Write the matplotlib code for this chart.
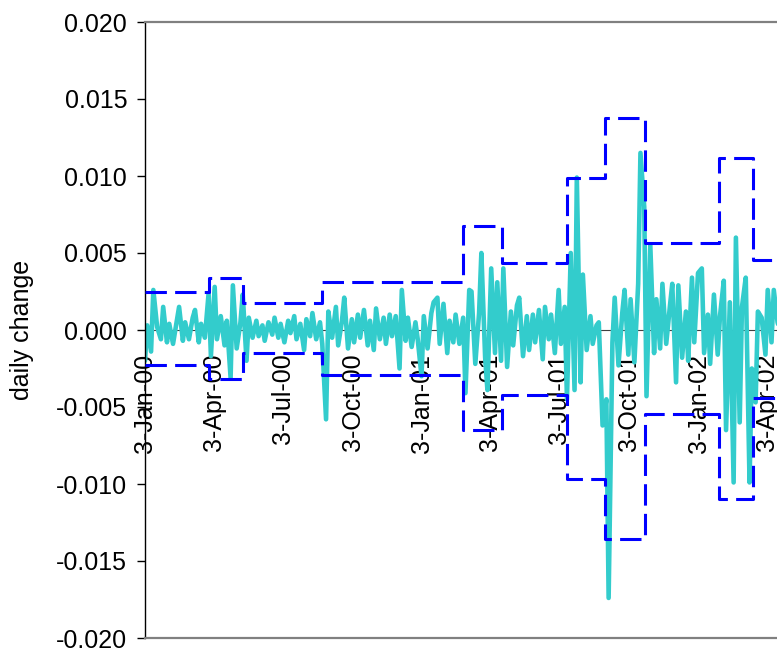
import pandas as pd
import matplotlib.pyplot as plt

plt.rcParams['font.family'] = ['Liberation Sans', 'DejaVu Sans']

# daily change, in thousandths, one reading every 3 trading days from 3-Jan-00
change_milli = [
    -2.0, 0.3, -1.4, 2.6, 0.2, -0.6, 1.5, -0.8, 0.4, -0.9, 0.6, 1.5, -0.7, 0.5, -0.6, 0.8, 1.3, -0.8, 0.4, -0.5,
    2.4, -1.7, 2.8, -0.6, 0.9, -1.0, 0.6, -3.1, 2.9, -1.2, 0.5, 2.3, -2.0, 0.8, -0.5, 0.6,
    -0.4, 0.3, -0.7, 0.5, -0.3, 0.8, -0.5, 0.4, -0.8, 0.6, -0.2, 0.9, -0.6, 0.4, -1.3, 0.7, -0.4, 1.1, -0.6, 0.5, -0.9,
    -5.8, 1.2, -0.5, 1.5, -1.0, 0.6, 2.1, -1.2, 0.7, -0.8, 1.0, -0.5, 1.3, -1.0, 0.6, -1.3, 1.4, -0.6, 0.8, -0.9, 1.0, -0.4, 0.9,
    -2.5, 2.6, -0.7, 0.8, -1.1, 0.5, -0.6, -3.0, 0.9, -1.2, 1.1, 1.8, 2.1, -0.9, 1.7, -1.5, 0.6, -0.8, 1.0, -0.9, 0.8,
    -4.1, 2.6, 2.5, -2.2, 1.1, 5.0, -1.8, -3.9, 4.0, -1.5, 3.1, -2.0, 4.0, -2.4, 1.2, -1.0, 1.6, 2.1, -1.7, 0.9,
    -1.3, 1.0, -0.8, 1.3, -1.9, 1.5, -0.6, 1.0, -1.5, 2.6, -0.9, 1.5, -4.5,
    5.0, -3.9, 9.9, -3.4, 3.6, -1.3, 0.9, -0.9, 0.3, 0.5, -6.2, -4.5, -17.4, -0.8, 2.1, -2.3, 1.1, 2.6, -1.6, 2.0,
    -2.1, 3.0, 11.5, 8.0,
    -4.3, 5.5, -1.5, 2.0, -1.2, 3.0, -0.9, 1.6, 3.0, -3.4, 2.9, -1.8, 1.2, -2.0, 3.4, -0.8, 3.7, 4.0, -1.5, 1.0,
    -2.2, 2.3, -1.6, 0.9, 3.2, -6.5, 1.8, -9.9, 6.0, -6.0, 1.5, 3.4, -9.9, -2.5, -4.7, 1.2, 0.8, -1.6, 2.6, -0.8,
    2.6, 0.5, -0.5,
]

# volatility bands (thousandths), constant from each start date
band_starts = ['2000-01-03', '2000-03-27', '2000-05-12', '2000-08-24', '2001-02-26', '2001-04-18',
               '2001-07-13', '2001-09-01', '2001-10-24', '2002-01-30', '2002-03-15']
band_upper = [2.45, 3.4, 1.73, 3.1, 6.75, 4.33, 9.9, 13.75, 5.63, 11.2, 4.55]
band_lower = [-2.27, -3.2, -1.5, -2.9, -6.5, -4.2, -9.7, -13.6, -5.45, -11.0, -4.4]
band_end = '2002-05-31'

tick_dates = ['2000-01-03', '2000-04-03', '2000-07-03', '2000-10-03', '2001-01-03',
              '2001-04-03', '2001-07-03', '2001-10-03', '2002-01-03', '2002-04-03']

dates = pd.bdate_range('2000-01-03', periods=len(change_milli), freq='3B')
change = pd.Series(change_milli, index=dates) / 1000.0

bx = pd.to_datetime(band_starts + [band_end])
up = [v / 1000.0 for v in band_upper + [band_upper[-1]]]
lo = [v / 1000.0 for v in band_lower + [band_lower[-1]]]

fig = plt.figure(figsize=(7.77, 6.52), dpi=100)
ax = fig.add_axes([145 / 777, 1 - 638 / 652, 1 - 145 / 777, (638 - 22) / 652])

ax.axhline(0, color='#404040', lw=0.8, zorder=1)
ax.plot(change.index, change.values, color='#33CCCC', lw=3.3, zorder=2,
        solid_joinstyle='round', solid_capstyle='round')
ax.plot(bx, up, color='#0000FF', lw=2.2, ls=(0, (7, 2.7)), drawstyle='steps-post', zorder=3)
ax.plot(bx, lo, color='#0000FF', lw=2.2, ls=(0, (7, 2.7)), drawstyle='steps-post', zorder=3)

ax.set_ylim(-0.020, 0.020)
ax.set_yticks([-0.020, -0.015, -0.010, -0.005, 0.0, 0.005, 0.010, 0.015, 0.020])
ax.yaxis.set_major_formatter(plt.FormatStrFormatter('%.3f'))
ax.set_xlim(pd.Timestamp('2000-01-03'), pd.Timestamp('2002-04-16 06:00'))

ticks = pd.to_datetime(tick_dates)
ax.set_xticks(ticks)
ax.set_xticklabels([d.strftime('%-d-%b-%y') for d in ticks], rotation=90, va='top', ha='center')
ax.tick_params(axis='x', length=0, pad=17, labelsize=18)
ax.tick_params(axis='y', length=5.8, width=1, pad=7, labelsize=18, direction='out')

for side in ['top', 'bottom']:
    ax.spines[side].set_color('#808080')
    ax.spines[side].set_linewidth(1.6)
ax.spines['right'].set_visible(False)
ax.spines['left'].set_color('black')
ax.spines['left'].set_linewidth(1)

# tick labels hang from the zero line, not from the bottom border
for lab in ax.get_xticklabels():
    lab.set_y(0.5)

ax.set_ylabel('daily change', fontsize=18)
ax.yaxis.set_label_coords(-0.176, 0.5)

fig.savefig('out.png', dpi=100)
